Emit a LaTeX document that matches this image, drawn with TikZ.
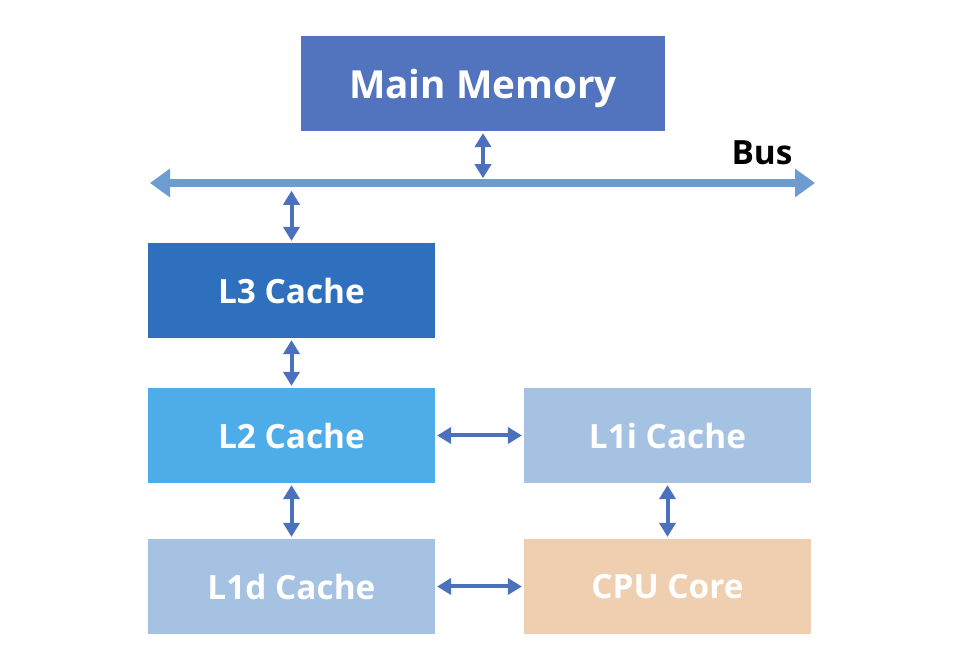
\documentclass[tikz,border=0pt]{standalone}
\usepackage{fontspec}
\setmainfont{Open Sans}
\usetikzlibrary{arrows.meta}
\definecolor{memblue}{RGB}{82,116,190}
\definecolor{busblue}{RGB}{108,156,208}
\definecolor{linkblue}{RGB}{74,112,190}
\definecolor{lthree}{RGB}{46,112,190}
\definecolor{ltwo}{RGB}{78,173,232}
\definecolor{lone}{RGB}{166,194,226}
\definecolor{core}{RGB}{240,206,176}
\begin{document}
\begin{tikzpicture}[
        block/.style={minimum width=5.74cm, minimum height=1.9cm, inner sep=0pt, text depth=0pt, text=white, font=\bfseries\fontsize{19}{22}\selectfont},
        link/.style={draw=linkblue, line width=0.08cm, {Triangle[length=0.28cm,width=0.32cm]}-{Triangle[length=0.28cm,width=0.32cm]}, shorten >=1pt, shorten <=1pt}
    ]
            \useasboundingbox (0, 0) rectangle (19.24, 13.36);
            \node[block, fill=memblue, minimum width=7.28cm, font=\bfseries\fontsize{22}{26}\selectfont] (mem) at (9.66, 11.69) {Main Memory};
            \node[block, fill=lthree] (l3) at (5.83, 7.55) {L3 Cache};
            \node[block, fill=ltwo] (l2) at (5.83, 4.65) {L2 Cache};
            \node[block, fill=lone] (l1i) at (13.35, 4.65) {L1i Cache};
            \node[block, fill=lone] (l1d) at (5.83, 1.63) {L1d Cache};
            \node[block, fill=core] (cpu) at (13.35, 1.63) {CPU Core};
            \coordinate (busl) at (3.00, 9.70);
            \coordinate (busr) at (16.30, 9.70);
            \draw[busblue, line width=0.16cm, {Triangle[length=0.4cm,width=0.55cm]}-{Triangle[length=0.4cm,width=0.55cm]}] (busl) -- (busr);
            \node[font=\bfseries\fontsize{19}{22}\selectfont] (bus) at (15.24, 10.30) {Bus};
            \coordinate (busmem) at (9.66, 9.76);
            \coordinate (busl3) at (5.83, 9.58);
            \draw[link] (mem) -- (busmem);
            \draw[link] (busl3) -- (l3);
            \draw[link] (l3) -- (l2);
            \draw[link] (l2) -- (l1i);
            \draw[link] (l2) -- (l1d);
            \draw[link] (l1i) -- (cpu);
            \draw[link] (l1d) -- (cpu);
\end{tikzpicture}
\end{document}
